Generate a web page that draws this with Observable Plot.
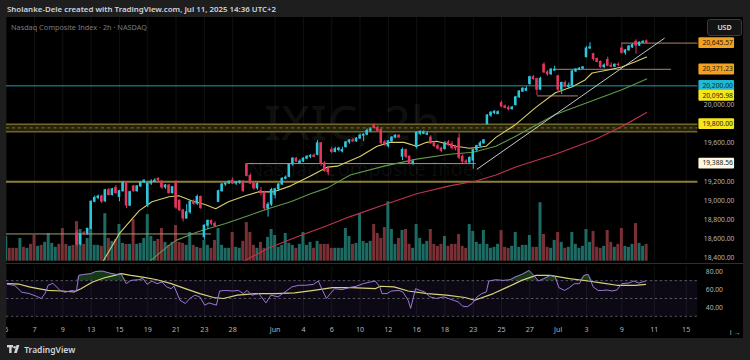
<!DOCTYPE html>
<html><head><meta charset="utf-8">
<script src="https://cdn.jsdelivr.net/npm/d3@7"></script>
<script src="https://cdn.jsdelivr.net/npm/@observablehq/plot@0.6"></script>
<style>
html,body{margin:0;padding:0;background:#1e1e1e;}
#frame{position:relative;width:750px;height:360px;background:#1e1e1e;overflow:hidden;font-family:"Noto Sans",sans-serif;}
#hdr{position:absolute;left:7px;top:4px;font-size:7.9px;font-weight:600;color:#d1d4dc;white-space:nowrap;}
#panel{position:absolute;left:6px;top:17px;width:737px;height:321px;background:#000;overflow:hidden;}
.layer{position:absolute;left:-6px;}
.wm{position:absolute;color:rgba(255,255,255,0.06);white-space:nowrap;font-family:"Noto Sans",sans-serif;line-height:1;}
#sub{position:absolute;left:5px;top:5px;font-size:7.3px;color:#787b86;white-space:nowrap;}
#usd{position:absolute;left:701px;top:2px;width:33px;height:15px;border:1px solid #3a3a3a;border-radius:3px;background:#141414;color:#e0e0e0;font-size:7px;font-weight:600;line-height:15px;text-align:center;}
#sep{position:absolute;left:0;top:246px;width:737px;height:1px;background:#2f2f2f;}
#logo{position:absolute;left:7px;top:344px;height:12px;color:#d1d4dc;font-size:8.5px;font-weight:600;white-space:nowrap;}
</style></head><body>
<div id="frame">
  <div id="hdr">Sholanke-Dele created with TradingView.com, Jul 11, 2025 14:36 UTC+2</div>
  <div id="panel">
    <div class="wm" style="left:258px;top:81px;font-size:48px;font-weight:500;">IXIC, 2h</div>
    <div class="wm" style="left:242px;top:142px;font-size:20px;">Nasdaq Composite Index</div>
    <div id="vol" class="layer" style="top:0"></div>
    <div id="main" class="layer" style="top:0"></div>
    <div id="sep"></div>
    <div id="rsi" class="layer" style="top:247px"></div>
    <div id="sub">Nasdaq Composite Index · 2h · NASDAQ</div>
    <div id="usd">USD</div>
  </div>
  <div id="logo"><svg width="15" height="10" viewBox="0 0 15 10" style="vertical-align:-1px"><rect x="0" y="1" width="6" height="2.4" fill="#d1d4dc"/><rect x="2.2" y="1" width="2.4" height="8" fill="#d1d4dc"/><circle cx="7.6" cy="3.2" r="1.3" fill="#d1d4dc"/><polygon points="9.6,1 12.4,1 9.8,9 7,9" fill="#d1d4dc"/></svg> TradingView</div>
</div>
<script>
// ---------- data (2h bars, 5 May – 10 Jul 2025) ----------
const O = [17800,17880,17840,17850,17700,17740,17710,17730,17760,17720,17770,17720,17900,17990,18020,18030,17960,17900,17880,17950,
18660,18545,18660,18650,18710,18990,19030,19045,18995,19110,19060,19135,19040,19100,19190,18950,19150,19100,19150,19190,
18960,19180,19200,19230,19200,19140,19160,19080,19190,19000,18900,18815,18880,18990,18970,19040,18620,18740,18790,18760,
18990,19100,19170,19180,19210,19180,19190,19200,19380,19260,19180,19130,19100,19080,18920,18960,19060,19120,19170,19230,
19250,19380,19440,19395,19410,19440,19460,19470,19480,19600,19390,19330,19530,19510,19530,19515,19560,19610,19630,19620,
19650,19680,19690,19730,19790,19760,19740,19610,19570,19620,19660,19680,19460,19530,19460,19390,19560,19700,19700,19690,
19660,19600,19570,19545,19540,19610,19590,19560,19650,19460,19410,19400,19420,19530,19570,19600,19800,19890,19915,19905,
20020,19985,19970,19955,20000,20080,20140,20150,20220,20290,20270,20160,20420,20340,20320,20360,20300,20160,20230,20190,
20200,20350,20370,20380,20500,20590,20530,20480,20450,20395,20470,20410,20400,20420,20590,20545,20570,20600,20660,20620,
20650,20665];
const H = [17900,17900,17860,17870,17760,17760,17740,17740,17800,17780,17830,17760,18020,18040,18050,18040,17990,17930,17950,17960,
18690,18660,18680,18710,19000,19050,19060,19060,19120,19130,19130,19160,19110,19200,19200,19100,19160,19160,19200,19215,
19190,19220,19230,19240,19210,19170,19170,19150,19210,19010,18910,18960,19000,19010,19060,19050,18750,18800,18800,18780,
19110,19180,19190,19210,19240,19200,19210,19210,19390,19280,19200,19190,19140,19100,18980,19130,19130,19180,19240,19260,
19390,19450,19450,19430,19450,19470,19480,19490,19630,19610,19410,19350,19560,19560,19560,19560,19620,19640,19650,19660,
19700,19700,19750,19760,19800,19780,19760,19630,19630,19670,19690,19690,19550,19540,19470,19430,19720,19730,19730,19720,
19680,19620,19590,19560,19620,19630,19620,19580,19700,19480,19430,19460,19540,19580,19620,19640,19900,19930,19940,19940,
20040,20000,19990,19985,20090,20150,20180,20190,20300,20310,20280,20290,20440,20360,20380,20404,20310,20240,20250,20230,
20360,20380,20390,20400,20610,20650,20540,20490,20460,20430,20500,20440,20430,20440,20645,20580,20620,20640,20680,20660,
20670,20680];
const L = [17780,17820,17800,17830,17650,17690,17680,17680,17700,17700,17700,17700,17880,17960,17990,17900,17880,17860,17870,17910,
18520,18530,18640,18640,18700,18980,19010,18970,18980,19050,19050,19070,18990,19090,18920,18940,19090,19090,19140,19180,
18930,19160,19190,19200,19120,19120,19070,19070,18910,18890,18780,18810,18860,18950,18950,18910,18590,18700,18740,18720,
18980,19090,19150,19170,19170,19160,19170,19090,19250,19170,19110,19110,19050,18900,18830,18940,19020,19100,19160,19220,
19240,19360,19400,19385,19400,19430,19440,19450,19470,19360,19300,19260,19490,19500,19510,19500,19550,19590,19610,19610,
19640,19620,19680,19710,19750,19720,19580,19570,19550,19610,19650,19650,19420,19440,19380,19370,19540,19680,19690,19680,
19590,19560,19530,19500,19530,19570,19530,19520,19430,19390,19380,19390,19330,19510,19560,19590,19790,19870,19900,19900,
19970,19960,19940,19950,19990,20070,20130,20140,20200,20260,20096,20150,20330,20300,20310,20350,20130,20110,20180,20170,
20180,20340,20360,20370,20490,20580,20460,20440,20380,20380,20400,20390,20390,20400,20530,20520,20560,20590,20530,20610,
20640,20640];
const C = [17880,17840,17820,17844,17740,17710,17730,17690,17720,17770,17720,17738,17990,18020,18030,17928,17900,17880,17940,17929,
18545,18650,18650,18708,18990,19030,19045,18991,19110,19060,19120,19080,19100,19190,18950,19090,19100,19150,19190,19211,
19180,19200,19210,19215,19140,19160,19080,19142,18930,18900,18815,18880,18990,18970,19040,18925,18740,18790,18760,18737,
19100,19170,19180,19199,19180,19190,19200,19100,19260,19180,19130,19175,19080,18920,18960,19113,19120,19170,19230,19242,
19380,19440,19410,19410,19440,19460,19470,19460,19600,19390,19310,19298,19510,19540,19545,19529,19610,19630,19620,19650,
19680,19690,19730,19745,19760,19730,19600,19590,19620,19660,19680,19662,19530,19460,19390,19406,19710,19720,19715,19701,
19600,19570,19545,19521,19600,19580,19550,19546,19450,19410,19400,19447,19530,19570,19600,19631,19890,19920,19930,19925,
19985,19970,19955,19973,20080,20140,20170,20167,20290,20270,20160,20273,20340,20320,20370,20369,20160,20230,20190,20202,
20350,20370,20380,20393,20590,20601,20480,20450,20395,20412,20410,20400,20420,20418,20545,20570,20610,20625,20620,20650,
20660,20645];
// volume, millions
const VOL = [1000,520,520,520,920,560,520,680,1040,600,640,760,1120,720,560,680,1320,680,600,640,
1600,1280,680,920,1320,640,640,600,1920,920,800,880,1480,720,680,680,1680,680,720,920,
1880,1000,800,880,1320,760,640,760,1440,760,720,640,1160,640,560,520,840,640,520,840,
1320,640,520,520,1160,560,520,800,1560,1160,640,520,760,520,960,1280,1040,560,640,1120,
720,640,520,680,1160,640,760,520,800,680,680,680,520,520,520,520,1320,1000,680,720,
1920,800,720,800,1480,1120,920,1360,2400,1280,680,920,1240,1280,680,520,1480,920,680,800,
1280,680,600,680,1000,600,680,680,1080,600,520,1480,1200,760,680,1240,680,520,560,680,
1240,560,520,600,1160,560,640,640,1040,560,560,2360,1080,560,520,840,1160,760,520,560,
1160,680,520,600,1280,760,1200,560,520,600,1240,760,560,680,1320,600,560,680,1520,720,
600,680];
// moving averages: bar index / price
const maYelI = [26.9,32,37.6,41.2,46,48.8,52.4,56.4,59.2,62.8,67.6,71.2,75.4,80.4,86,90.8,93.6,100.1,104.8,108.5,112.4,116,118.8,121.6,127.2,130.9,133.7,135.6,138.4,144,149.6,155.2,160,163.6,165.6,170.1,174,177.6,181];
const maYelP = [18340,18659,18897,18990,19042,19052,19000,18959,18917,18990,19052,19093,19093,19156,19259,19352,19362,19466,19569,19610,19610,19569,19610,19621,19569,19548,19559,19569,19662,19797,19972,20128,20190,20262,20334,20366,20397,20448,20500];
const maGrnI = [39.6,46,48,54.4,62,68.4,74,80.4,86,90.8,97.2,106.8,116,125.3,132,138.4,144,155.2,166.4,174,181];
const maGrnP = [18340,18535,18587,18680,18763,18845,18917,18990,19073,19135,19269,19362,19435,19486,19507,19569,19673,19900,20055,20158,20272];
const maRedI = [65.6,74,82.4,90.8,97.2,106.8,116,125.3,132.8,138.4,144,155.2,166.4,174,181];
const maRedP = [18340,18504,18628,18742,18835,18959,19073,19156,19207,19269,19352,19486,19641,19776,19921];
// RSI(14) and its moving average
const rsiI = [0.3,2.3,4.4,6.5,8.5,9.9,11,11.8,13.2,15.2,16.6,18.5,19.8,20.5,21.9,23.9,25.3,27.2,29.2,31.1,32.5,33.9,35.2,37.3,38.6,39.8,41.2,42.6,44,45.3,46.6,47.4,49.1,50.6,51.9,53.3,54.7,56.1,57.3,59.4,60.3,62,64,65.6,67,68.1,69.4,71.4,73.4,74.8,76.8,78.8,80.7,82.7,84.6,86.9,88.2,89.4,90.5,91.7,92.8,94.9,96.9,98.9,100.9,102.9,104.3,105.6,106.2,107.6,108.9,111,112.1,113.6,114.3,115.7,117,118.3,119.7,121.6,123.6,125,126.4,127.7,129,130.3,131.7,133.1,134.4,135.7,136.4,138.4,140.4,142.4,143.8,145.7,147.8,149.1,150.5,151.9,153.8,155.2,156.2,157.8,159.2,160.6,162,163.3,164.5,165.9,167.3,168.6,169.8,171.2,172.6,174,176,177.4,178.8,180.7];
const rsiV = [65.9,64.8,57,55.5,52.5,50,56,64.8,67,59,57,59,58,75.9,77,77.8,80.3,80.7,78.5,77,77.5,66.6,70.3,71,72.5,65.9,69.6,66.6,68.5,63,61,64,48,44.4,50,53.7,51.8,42.5,45,42.5,58.4,59,58.4,59,55.5,59,53.7,55.5,45,53.7,51.8,57.3,62.9,64.8,64.8,65.9,69.6,59,50,56,61,60,62.2,63.7,66.6,68.5,69.6,63,55.5,55.5,58.4,59,57.3,48,38.9,61,59,57.3,51.8,50,51.8,50,48,46.3,41.4,40.7,44.4,51.8,55.5,57.3,69.6,71,70.3,71,74,77,81.4,75.9,69.6,72.2,75.9,74,62.2,59,62.2,66.6,66.6,75.9,77,63,59,59,59.5,58.4,59.5,66.6,67.3,69.6,67.3,69.6];
const rsiMaI = [0.3,3.7,6.5,9,11.8,15.7,19.1,21.1,24.4,27.8,30.6,32.5,35.2,38.6,42.6,46.6,50.6,54.7,58.6,61.4,65.3,70.6,76.1,81.5,86.9,92.2,97.5,104.3,105.7,109.6,113.6,119,124.4,129.7,132.4,137.7,141.8,145.7,149.8,153.8,159.2,164.5,168.6,172.6,177.9,180.7];
const rsiMaV = [66.6,66,63,61,59,58.4,57.3,61,68.5,73.3,75.9,77.8,75.9,74,71,66.6,61,55.5,51.1,50,53.7,55.5,55.5,56.2,59,62.2,62.2,61,63.7,63,58.4,55.5,53.7,51.1,48,55.5,63,70.3,75.9,75.9,72.2,69.6,67.3,64.8,64.8,65.9];
const rsiLevels = [30, 50, 70];
// time axis
const tickIdx = [0,8,16,24,32,40,48,56,64,76,84,92,100,108,116,124,132,140,148,156,164,174,183.2,192.2];
const tickLab = ["5","7","9","13","15","19","21","23","28","Jun","4","6","10","12","16","18","23","25","27","Jul","3","9","11","15"];
const priceTicks = [18400,18600,18800,19000,19200,19600,20000];
// user drawings: horizontal levels (price, from bar, to bar)
const hLines = [
  {p: 20645.57, a: 174, b: 196, c: "#8a6a55", w: 1.2},
  {p: 20371.23, a: 155, b: 188, c: "#8a6a55", w: 1.2},
  {p: 20200.00, a: 0, b: 196, c: "#1e9db3", w: 1},
  {p: 20095.98, a: 150.2, b: 161.7, c: "#8a6a55", w: 1.2},
  {p: 19388.56, a: 68, b: 132.8, c: "#9a9a9a", w: 1},
  {p: 19200.00, a: 0, b: 196, c: "#8c7f36", w: 2},
  {p: 18654, a: 0, b: 58, c: "#a89f78", w: 1}
];
const zone = {top: 19800, bottom: 19722, mid: 19761};
const trend = [{i: 133.1, p: 19331}, {i: 186, p: 20696}];
const priceLabels = [
  {p: 20645.57, bg: "#f4a11f", fg: "#1a1a1a"},
  {p: 20371.23, bg: "#f4a11f", fg: "#1a1a1a"},
  {p: 20200.00, bg: "#1fb9d3", fg: "#0b2a30"},
  {p: 20095.98, bg: "#f6e61c", fg: "#1a1a1a"},
  {p: 19800.00, bg: "#f6e61c", fg: "#1a1a1a"},
  {p: 19388.56, bg: "#fff8e0", fg: "#1a1a1a"}
];

// ---------- build ----------
const UP = "#2fc6dc", DN = "#e5365e";
const VUP = "#1d6b63", VDN = "#7a3136";
const bars = d3.range(C.length).map(i => ({i, o: O[i], h: H[i], l: L[i], c: C[i], v: VOL[i], up: C[i] >= O[i]}));
const pts = (I, P) => I.map((x, k) => ({i: x, p: P[k]}));
const xDom = [0.056, 195.5];
const font = "'Noto Sans', sans-serif";
const labMap = new Map(tickIdx.map((d, k) => [d, tickLab[k]]));

const volPlot = Plot.plot({
  width: 750, height: 246, marginTop: 0, marginBottom: 0, marginLeft: 6, marginRight: 46,
  style: {background: "transparent"},
  x: {domain: xDom, axis: null},
  y: {domain: [0, 9840], axis: null},
  marks: [
    Plot.gridX(tickIdx, {stroke: "#ffffff", strokeOpacity: 0.07}),
    Plot.rectY(bars, {x1: d => d.i - 0.42, x2: d => d.i + 0.42, y: "v", fill: d => d.up ? VUP : VDN})
  ]
});
document.getElementById("vol").appendChild(volPlot);

const mainPlot = Plot.plot({
  width: 750, height: 246, marginTop: 0, marginBottom: 0, marginLeft: 6, marginRight: 46,
  style: {background: "transparent", color: "#b2b5be", fontFamily: font},
  x: {domain: xDom, axis: null},
  y: {domain: [18369.7, 20913.3], axis: null},
  marks: [
    Plot.rect([zone], {x1: xDom[0], x2: xDom[1], y1: "bottom", y2: "top", fill: "#26230c", clip: true}),
    Plot.ruleY([zone], {y: "top", stroke: "#6e6526", strokeWidth: 1.5}),
    Plot.ruleY([zone], {y: "bottom", stroke: "#6e6526", strokeWidth: 1.5}),
    Plot.ruleY([zone], {y: "mid", stroke: "#7b722f", strokeDasharray: "3,3"}),
    Plot.ruleY(hLines, {y: "p", x1: "a", x2: "b", stroke: "c", strokeWidth: "w", clip: true}),
    Plot.line(pts(maRedI, maRedP), {x: "i", y: "p", stroke: "#c2334f", strokeWidth: 1.1, clip: true}),
    Plot.line(pts(maGrnI, maGrnP), {x: "i", y: "p", stroke: "#5f9a4a", strokeWidth: 1.1, clip: true}),
    Plot.line(pts(maYelI, maYelP), {x: "i", y: "p", stroke: "#d7cf6a", strokeWidth: 1.1, clip: true}),
    Plot.line(trend, {x: "i", y: "p", stroke: "#c9c9c9", strokeWidth: 1, clip: true}),
    Plot.ruleX(bars, {x: "i", y1: "l", y2: "h", stroke: d => d.up ? UP : DN, strokeWidth: 1, clip: true}),
    Plot.rect(bars, {x1: d => d.i - 0.36, x2: d => d.i + 0.36, y1: "o", y2: "c", fill: d => d.up ? UP : DN, insetTop: -0.5, insetBottom: -0.5, clip: true}),
    Plot.axisY({anchor: "right", ticks: priceTicks, tickFormat: d3.format(",.2f"), tickSize: 0, tickPadding: 6, fontSize: 6.8, fill: "#b2b5be"})
  ]
});
document.getElementById("main").appendChild(mainPlot);

// price labels on the axis, placed with the plot's own y scale
const ys = mainPlot.scale("y");
const svgMain = d3.select(mainPlot);
priceLabels.forEach(d => {
  const y = ys.apply(d.p);
  const g = svgMain.append("g").attr("text-anchor", "start");
  g.append("rect").attr("x", 705).attr("y", y - 5.5).attr("width", 36).attr("height", 11).attr("rx", 1).attr("fill", d.bg);
  g.append("text").attr("x", 709).attr("y", y + 2.4).attr("font-size", 6.8).attr("font-family", font)
    .attr("text-anchor", "start").attr("fill", d.fg).text(d3.format(",.2f")(d.p));
});

const rsiPlot = Plot.plot({
  width: 750, height: 74, marginTop: 2, marginBottom: 18, marginLeft: 6, marginRight: 46,
  style: {background: "transparent", color: "#b2b5be", fontFamily: font},
  x: {domain: xDom, axis: null},
  y: {domain: [25.9, 85.9], axis: null},
  marks: [
    Plot.gridX(tickIdx, {stroke: "#ffffff", strokeOpacity: 0.07}),
    Plot.rect([{lo: 30, hi: 70}], {x1: xDom[0], x2: xDom[1], y1: "lo", y2: "hi", fill: "#7e57c2", fillOpacity: 0.1}),
    Plot.ruleY(rsiLevels, {stroke: "#787b86", strokeOpacity: 0.7, strokeDasharray: "2.5,2.5"}),
    Plot.areaY(pts(rsiI, rsiV), {x: "i", y1: 70, y2: d => Math.max(70, d.p), fill: "#2e7d32", fillOpacity: 0.45}),
    Plot.line(pts(rsiMaI, rsiMaV), {x: "i", y: "p", stroke: "#d6d27a", strokeWidth: 1.2}),
    Plot.line(pts(rsiI, rsiV), {x: "i", y: "p", stroke: "#9a7ad6", strokeWidth: 1}),
    Plot.axisY({anchor: "right", ticks: [40, 60, 80], tickFormat: d3.format(".2f"), tickSize: 0, tickPadding: 8, fontSize: 6.8, fill: "#b2b5be"}),
    Plot.axisX({ticks: tickIdx, tickFormat: d => labMap.get(d), tickSize: 0, tickPadding: 7, fontSize: 7.2, fill: "#b2b5be"})
  ]
});
document.getElementById("rsi").appendChild(rsiPlot);
</script>
</body></html>
